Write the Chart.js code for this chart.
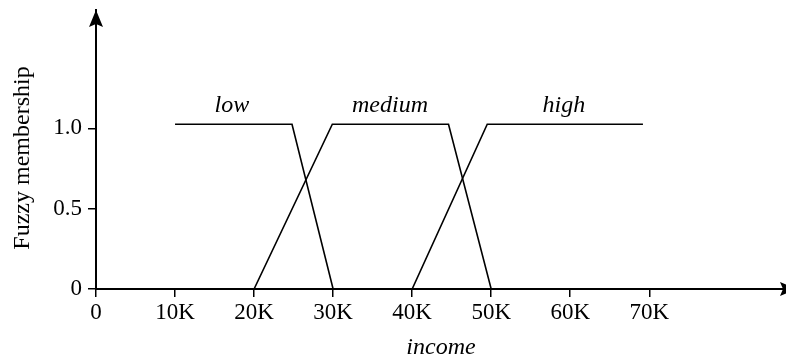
<!DOCTYPE html>
<html><head><meta charset="utf-8">
<script src="https://cdn.jsdelivr.net/npm/chart.js@4"></script>
<style>html,body{margin:0;padding:0;background:#fff}#wrap{width:786px;height:360px;position:relative}</style>
</head><body><div id="wrap"><canvas id="c"></canvas></div>
<script>
// ---- data ----
const xTicks = [0, 10, 20, 30, 40, 50, 60, 70];          // income in K
const yTicks = [0, 0.5, 1.0];
const yTickLabels = ['0', '0.5', '1.0'];
const lowX = [10, 24.8, 30];
const lowY = [1.025, 1.025, 0];
const mediumX = [20, 29.9, 44.6, 50];
const mediumY = [0, 1.025, 1.025, 0];
const highX = [40, 49.5, 69.2];
const highY = [0, 1.025, 1.025];
const setNames = ['low', 'medium', 'high'];
const setLabelX = [17.2, 37.2, 59.2];
const setLabelY = [1.1, 1.1, 1.1];
const xTitle = 'income';
const yTitle = 'Fuzzy membership';
const xMax = 87.3;
const yMax = 1.736;

const FONT = '"Liberation Serif", "Times New Roman", serif';
const toPts = (xs, ys) => xs.map((v, i) => ({x: v, y: ys[i]}));
const ds = (label, xs, ys) => ({
  label, data: toPts(xs, ys), borderColor: '#000', borderWidth: 1.6,
  pointRadius: 0, tension: 0, fill: false, showLine: true
});

const deco = {
  id: 'deco',
  afterDraw(chart) {
    const {ctx, chartArea: a, scales: {x, y}} = chart;
    ctx.save();
    ctx.fillStyle = '#000';
    // y arrow head
    const ax = x.getPixelForValue(0);
    ctx.beginPath();
    ctx.moveTo(ax, a.top);
    ctx.lineTo(ax - 7, a.top + 17);
    ctx.lineTo(ax, a.top + 14);
    ctx.lineTo(ax + 7, a.top + 17);
    ctx.closePath(); ctx.fill();
    // x arrow head
    const ay = y.getPixelForValue(0);
    const tip = a.right + 11;
    ctx.beginPath();
    ctx.moveTo(tip, ay);
    ctx.lineTo(tip - 17, ay - 7);
    ctx.lineTo(tip - 14, ay);
    ctx.lineTo(tip - 17, ay + 7);
    ctx.closePath(); ctx.fill();
    // set names
    ctx.font = 'italic 24px ' + FONT;
    ctx.textAlign = 'center';
    ctx.textBaseline = 'alphabetic';
    setNames.forEach((n, i) => {
      ctx.fillText(n, x.getPixelForValue(setLabelX[i]), y.getPixelForValue(setLabelY[i]));
    });
    // y title
    ctx.font = '24px ' + FONT;
    ctx.textBaseline = 'middle';
    ctx.translate(23, 158);
    ctx.rotate(-Math.PI / 2);
    ctx.fillText(yTitle, 0, 0);
    ctx.restore();
  }
};

new Chart(document.getElementById('c'), {
  type: 'scatter',
  data: { datasets: [ds('low', lowX, lowY), ds('medium', mediumX, mediumY), ds('high', highX, highY)] },
  options: {
    responsive: true, maintainAspectRatio: false, animation: false, devicePixelRatio: 1,
    layout: { padding: { top: 10, right: 0, bottom: 0, left: 0 } },
    plugins: { legend: { display: false }, tooltip: { enabled: false } },
    scales: {
      x: {
        type: 'linear', min: 0, max: xMax,
        afterFit: s => { s.height = 71; s.paddingLeft = 0; s.paddingRight = 0; },
        afterBuildTicks: s => { s.ticks = xTicks.map(v => ({value: v})); },
        ticks: { color: '#000', font: { family: FONT, size: 23 }, padding: 2, maxRotation: 0,
                 autoSkip: false, callback: v => v === 0 ? '0' : v + 'K' },
        grid: { drawOnChartArea: false, drawTicks: true, tickLength: 8, color: '#000', lineWidth: 1.5 },
        border: { display: true, color: '#000', width: 2 },
        title: { display: true, text: xTitle, color: '#000',
                 font: { family: FONT, size: 24, style: 'italic', lineHeight: 1 }, padding: { top: 0, bottom: 0 } }
      },
      y: {
        type: 'linear', min: 0, max: yMax,
        afterFit: s => { s.width = 96; s.paddingTop = 0; s.paddingBottom = 0; },
        afterBuildTicks: s => { s.ticks = yTicks.map(v => ({value: v})); },
        ticks: { color: '#000', font: { family: FONT, size: 23 }, padding: 6,
                 callback: (v, i) => yTickLabels[i] },
        grid: { drawOnChartArea: false, drawTicks: true, tickLength: 8, color: '#000', lineWidth: 1.5 },
        border: { display: true, color: '#000', width: 2 }
      }
    }
  },
  plugins: [deco]
});
</script>
</body></html>
